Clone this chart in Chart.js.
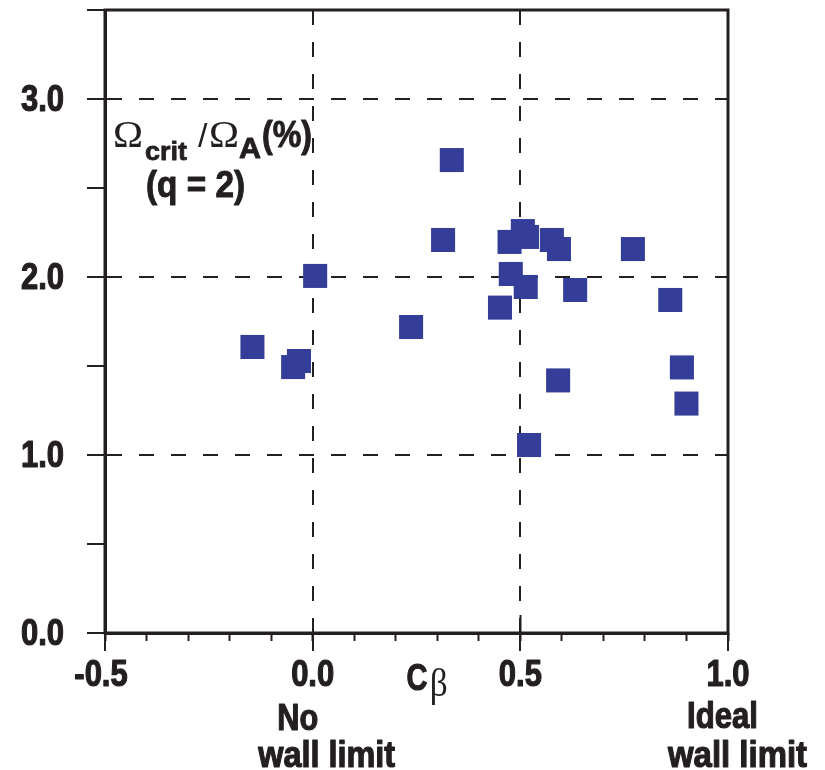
<!DOCTYPE html>
<html><head><meta charset="utf-8">
<script src="https://cdn.jsdelivr.net/npm/chart.js@4.4.1/dist/chart.umd.min.js"></script>
<style>html,body{margin:0;padding:0;background:#fff}#wrap{width:825px;height:770px}</style>
</head><body><div id="wrap"><canvas id="c" width="825" height="770"></canvas></div>
<script>
// C_beta values (x) and Omega_crit / Omega_A (%) values (y)
const cBeta = [-0.145, -0.047, -0.033, 0.006, 0.237, 0.314, 0.335, 0.474, 0.506, 0.516, 0.576, 0.593, 0.771, 0.477, 0.513, 0.632, 0.451, 0.861, 0.889, 0.900, 0.591, 0.521];
const omegaRatio = [1.607, 1.494, 1.528, 2.006, 1.719, 2.208, 2.657, 2.197, 2.258, 2.225, 2.208, 2.157, 2.157, 2.017, 1.944, 1.927, 1.828, 1.871, 1.492, 1.289, 1.419, 1.056];
const xRange = [-0.5, 1.0];
const yRange = [0, 3.5];
const xGridValues = [0, 0.5];
const yGridValues = [1, 2, 3];
const xTickLabels = ['-0.5', '0.0', '0.5', '1.0'];
const yTickLabels = ['0.0', '1.0', '2.0', '3.0'];

const INK = '#231f20';
const BLUE = '#343d98';
const CLEAR = 'rgba(0,0,0,0)';
const SANS = '"Liberation Sans", Arial, sans-serif';
const SERIF = '"Liberation Serif", "DejaVu Serif", serif';
const COND = 0.86;
const near = (v, list) => list.some(t => Math.abs(t - v) < 1e-6);

const points = cBeta.map((x, i) => ({x, y: omegaRatio[i]}));

// draw horizontally condensed text (the reference uses a condensed heavy face)
function drawText(ctx, text, font, x, y, align, sx, width, heavy) {
  ctx.save();
  ctx.font = font;
  ctx.textAlign = align;
  ctx.textBaseline = 'alphabetic';
  let s = sx;
  if (width) s = width / ctx.measureText(text).width;
  ctx.translate(x, y);
  ctx.scale(s, 1);
  ctx.fillText(text, 0, 0);
  if (heavy) {
    ctx.lineWidth = heavy;
    ctx.lineJoin = 'round';
    ctx.strokeStyle = ctx.fillStyle;
    ctx.strokeText(text, 0, 0);
  }
  ctx.restore();
}

const annot = {
  id: 'annot',
  afterDraw(chart) {
    const {ctx, chartArea: a, scales: {x, y}} = chart;
    ctx.save();
    ctx.strokeStyle = INK; ctx.lineWidth = 3;
    ctx.strokeRect(a.left, a.top, a.right - a.left, a.bottom - a.top);
    ctx.fillStyle = INK;
    const tickFont = 'bold 36px ' + SANS;
    // y tick labels
    y.ticks.forEach(t => {
      const s = t.value.toFixed(1);
      if (yTickLabels.includes(s)) drawText(ctx, s, tickFont, a.left - 41, y.getPixelForValue(t.value) + 12, 'right', COND, 0, 1.2);
    });
    // x tick labels
    x.ticks.forEach(t => {
      const s = t.value.toFixed(1);
      if (xTickLabels.includes(s)) drawText(ctx, s, tickFont, x.getPixelForValue(t.value) - (t.value < 0 ? 4 : 0), a.bottom + 53, 'center', COND, 0, 1.2);
    });
    // in-plot label
    const L = a.left;
    drawText(ctx, 'Ω', '38px ' + SERIF, L + 8, 147, 'left', 1, 30);
    drawText(ctx, 'crit', 'bold 26px ' + SANS, L + 40, 160, 'left', 1, 42, 0.8);
    drawText(ctx, '/', '34px ' + SANS, L + 93, 147, 'left', 1);
    drawText(ctx, 'Ω', '38px ' + SERIF, L + 104, 147, 'left', 1, 30);
    drawText(ctx, 'A', 'bold 29px ' + SANS, L + 134, 158, 'left', 1, 22, 0.8);
    drawText(ctx, '(%)', 'bold 37px ' + SANS, L + 157, 147, 'left', 1, 50, 1);
    drawText(ctx, '(q = 2)', 'bold 36px ' + SANS, L + 41, 197, 'left', 1, 99, 1);
    // axis title C_beta
    const xb = a.bottom;
    drawText(ctx, 'C', 'bold 36px ' + SANS, x.getPixelForValue(0.226), xb + 57, 'left', 1, 21, 1);
    drawText(ctx, 'β', '40px ' + SERIF, x.getPixelForValue(0.282), xb + 63, 'left', 1, 18);
    // limit notes
    const p0 = x.getPixelForValue(0), p1 = x.getPixelForValue(1);
    const noteFont = 'bold 37px ' + SANS;
    drawText(ctx, 'No', noteFont, p0 - 15, xb + 97, 'center', 1, 41, 1.2);
    drawText(ctx, 'wall limit', noteFont, p0 + 14, xb + 134, 'center', 1, 137, 1.2);
    drawText(ctx, 'Ideal', noteFont, p1 - 5.5, xb + 95, 'center', 1, 71, 1.2);
    drawText(ctx, 'wall limit', noteFont, p1 + 9.5, xb + 134, 'center', 1, 139, 1.2);
    ctx.restore();
  }
};

new Chart(document.getElementById('c'), {
  type: 'scatter',
  data: {datasets: [{
    data: points,
    pointStyle: 'rect',
    pointRadius: 17,
    pointHoverRadius: 17,
    backgroundColor: BLUE,
    borderColor: BLUE,
    borderWidth: 0
  }]},
  options: {
    responsive: false,
    animation: false,
    devicePixelRatio: 1,
    layout: {autoPadding: false, padding: {top: 10, right: 97, left: 0, bottom: 0}},
    plugins: {legend: {display: false}, tooltip: {enabled: false}},
    scales: {
      x: {
        type: 'linear', position: 'bottom', min: xRange[0], max: xRange[1],
        afterFit: s => { s.height = 137; s.paddingLeft = 0; s.paddingRight = 0; },
        ticks: {stepSize: 0.5, autoSkip: false, maxRotation: 0, display: false},
        grid: {color: c => (c.tick && near(c.tick.value, xGridValues)) ? INK : CLEAR,
          tickColor: INK, lineWidth: 2, tickWidth: 2, tickLength: 18, tickBorderDash: []},
        border: {display: true, color: INK, width: 3, dash: [15, 17]}
      },
      xMinor: {
        type: 'linear', axis: 'x', position: {y: 0}, min: xRange[0], max: xRange[1],
        ticks: {stepSize: 0.1, display: false, autoSkip: false},
        grid: {drawOnChartArea: false, color: CLEAR, tickColor: INK, tickWidth: 2, tickLength: 8},
        border: {display: false}
      },
      xMidUp: {
        type: 'linear', axis: 'x', position: {y: 0.1}, min: xRange[0], max: xRange[1],
        ticks: {stepSize: 0.5, display: false, autoSkip: false},
        grid: {drawOnChartArea: false, color: CLEAR,
          tickColor: c => (c.tick && near(c.tick.value, [0.5])) ? INK : CLEAR, tickWidth: 2, tickLength: 18},
        border: {display: false}
      },
      y: {
        type: 'linear', min: yRange[0], max: yRange[1],
        afterFit: s => { s.width = 105; s.paddingTop = 0; s.paddingBottom = 0; },
        ticks: {stepSize: 0.5, autoSkip: false, display: false},
        grid: {color: c => (c.tick && near(c.tick.value, yGridValues)) ? INK : CLEAR,
          tickColor: INK, lineWidth: 2, tickWidth: 2, tickLength: 18, tickBorderDash: []},
        border: {display: true, color: INK, width: 3, dash: [15, 17]}
      }
    }
  },
  plugins: [annot]
});
</script></body></html>
